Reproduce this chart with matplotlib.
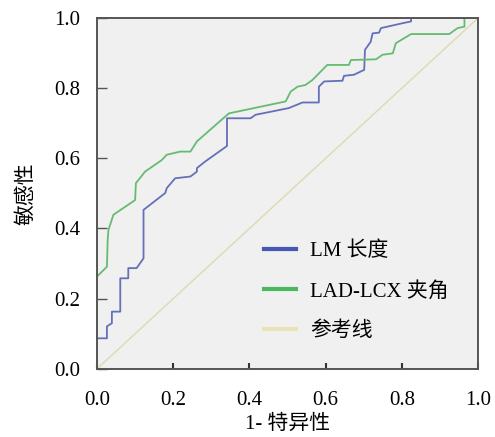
import matplotlib
matplotlib.use("Agg")
import matplotlib.pyplot as plt
from matplotlib.lines import Line2D

# ROC curve points
lm_fpr = [0, 0, 0.026, 0.026, 0.039, 0.039, 0.061, 0.061, 0.082, 0.082,
          0.104, 0.122, 0.122, 0.179, 0.183, 0.205, 0.245, 0.262, 0.262, 0.284,
          0.341, 0.341, 0.403, 0.416, 0.503, 0.539, 0.582, 0.582, 0.596, 0.644,
          0.648, 0.674, 0.701, 0.703, 0.718, 0.723, 0.740, 0.745, 0.802, 0.824,
          0.824, 1.0]
lm_tpr = [0, 0.087, 0.087, 0.121, 0.130, 0.163, 0.163, 0.258, 0.258, 0.287,
          0.287, 0.315, 0.453, 0.501, 0.515, 0.543, 0.548, 0.562, 0.572, 0.591,
          0.635, 0.714, 0.714, 0.724, 0.743, 0.759, 0.759, 0.804, 0.819, 0.821,
          0.835, 0.838, 0.852, 0.909, 0.932, 0.956, 0.958, 0.971, 0.985, 0.990,
          1.0, 1.0]

lad_fpr = [0, 0, 0.026, 0.028, 0.030, 0.043, 0.100, 0.102, 0.126, 0.170,
           0.183, 0.218, 0.245, 0.262, 0.346, 0.495, 0.508, 0.526, 0.547, 0.565,
           0.604, 0.661, 0.666, 0.732, 0.749, 0.776, 0.784, 0.824, 0.924, 0.946,
           0.964, 0.964, 1.0]
lad_tpr = [0, 0.263, 0.291, 0.368, 0.396, 0.439, 0.481, 0.529, 0.562, 0.595,
           0.610, 0.619, 0.619, 0.648, 0.728, 0.762, 0.790, 0.804, 0.809, 0.823,
           0.866, 0.866, 0.880, 0.882, 0.895, 0.899, 0.928, 0.954, 0.954, 0.971,
           0.975, 1.0, 1.0]

ref_line = [0, 1]
labels = ["LM 长度", "LAD-LCX 夹角", "参考线"]
ticks = [0.0, 0.2, 0.4, 0.6, 0.8, 1.0]

plt.rcParams['font.family'] = ['Liberation Serif', 'Noto Sans CJK SC']

fig = plt.figure(figsize=(4.95, 4.37), dpi=100)
ax = fig.add_axes([0.196, 0.156, 0.77, 0.803])
ax.set_facecolor('#f0f0f0')

ax.plot(ref_line, ref_line, color='#dedcb4', lw=1.1)
ax.plot(lm_fpr, lm_tpr, color='#6470b8', lw=1.3)
ax.plot(lad_fpr, lad_tpr, color='#66bb72', lw=1.3)

ax.set_xlim(0, 1)
ax.set_ylim(0, 1)
ax.set_xticks(ticks)
ax.set_yticks(ticks)
ax.set_xticklabels([f"{t:.1f}" for t in ticks])
ax.set_yticklabels([f"{t:.1f}" for t in ticks])
ax.tick_params(axis='x', direction='in', length=4, width=1.5, color='#333333',
               labelsize=15, pad=16)
ax.tick_params(axis='y', direction='in', length=7, width=1, color='#555555',
               labelsize=15, pad=12)
for s in ax.spines.values():
    s.set_color('#555555')
    s.set_linewidth(1.4)

ax.set_xlabel("1- 特异性", fontsize=15, labelpad=3)
ax.set_ylabel("敏感性", fontsize=15, labelpad=13)

handles = [Line2D([], [], color='#4556b5', lw=3),
           Line2D([], [], color='#4cb85c', lw=3),
           Line2D([], [], color='#e8e4b8', lw=3)]
ax.legend(handles, labels, loc='upper left', bbox_to_anchor=(0.437, 0.362),
          frameon=False, fontsize=15, handlelength=1.55, handletextpad=0.7,
          labelspacing=0.97, borderpad=0, borderaxespad=0)

fig.savefig('out.png', dpi=100)
